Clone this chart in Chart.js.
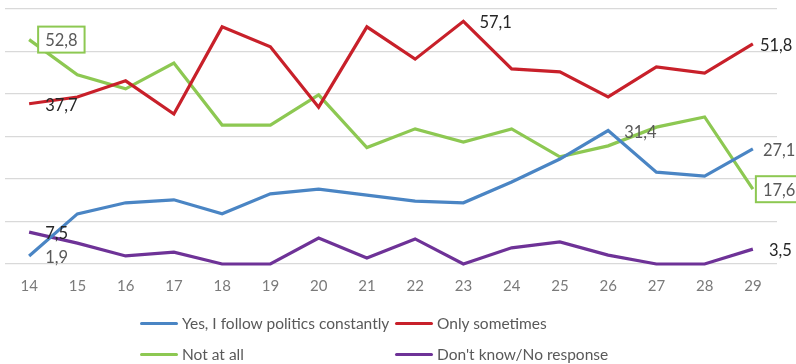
<!DOCTYPE html>
<html><head><meta charset="utf-8">
<script src="https://cdn.jsdelivr.net/npm/chart.js@4"></script>
<style>
html,body{margin:0;padding:0;background:#fff;}
#wrap{position:relative;width:796px;height:364px;}
canvas{position:absolute;left:0;top:0;}
.lg{position:absolute;font-family:Lato,sans-serif;font-size:15.5px;color:#595959;white-space:nowrap;line-height:18px;}
.lg i{position:absolute;left:-42px;top:8px;width:38px;height:3px;border-radius:2px;}
</style></head>
<body>
<div id="wrap"><canvas id="c" width="796" height="364"></canvas>
<div id="legend"></div></div>
<script>
const categories = ['14','15','16','17','18','19','20','21','22','23','24','25','26','27','28','29'];
const seriesNames = ['Yes, I follow politics constantly','Only sometimes','Not at all',"Don't know/No response"];
const yesConstantly = [1.9,11.8,14.4,15.1,11.8,16.5,17.6,16.2,14.8,14.4,19.3,24.7,31.4,21.6,20.7,27.1];
const onlySometimes = [37.7,39.3,43.1,35.3,55.8,51.1,36.9,55.8,48.2,57.1,45.9,45.2,39.3,46.4,44.9,51.8];
const notAtAll = [52.8,44.5,41.2,47.3,32.7,32.7,39.8,27.4,31.8,28.7,31.8,25.2,27.8,32.2,34.6,17.6];
const dontKnow = [7.5,4.9,1.9,2.8,0,0,6.1,1.4,5.9,0,3.8,5.2,2.1,0,0,3.5];
const colors = ['#4a85c4','#c8202a','#8dc852','#6e3297'];
const allData = [yesConstantly, onlySometimes, notAtAll, dontKnow];

// data label specs: dataset, point index, style
const labelSpecs = [
  {ds:1,i:0,dx:16,dy:1,color:'#262626'},
  {ds:2,i:0,dx:16,dy:0,color:'#595959',box:true},
  {ds:1,i:9,dx:16,dy:0,color:'#262626'},
  {ds:1,i:15,dx:7,dy:1,color:'#262626'},
  {ds:0,i:12,dx:16,dy:1,color:'#595959'},
  {ds:0,i:15,dx:10,dy:1,color:'#595959'},
  {ds:2,i:15,dx:10,dy:0,color:'#595959',box:true},
  {ds:3,i:0,dx:16,dy:1,color:'#262626'},
  {ds:0,i:0,dx:16,dy:1,color:'#595959'},
  {ds:3,i:15,dx:16,dy:1,color:'#262626'}
];

const labelPlugin = {
  id:'labels',
  afterDatasetsDraw(chart){
    const ctx = chart.ctx;
    ctx.save();
    ctx.font = '16.5px Lato, sans-serif';
    ctx.textBaseline = 'middle';
    ctx.textAlign = 'left';
    labelSpecs.forEach(s=>{
      const el = chart.getDatasetMeta(s.ds).data[s.i];
      const v = chart.data.datasets[s.ds].data[s.i];
      const txt = v.toFixed(1).replace('.',',');
      const x = el.x + s.dx, y = el.y + s.dy;
      const w = ctx.measureText(txt).width;
      if (s.box){
        ctx.fillStyle='#fff';
        ctx.fillRect(x-7,y-13,w+14,26);
        ctx.strokeStyle = colors[2];
        ctx.lineWidth = 2;
        ctx.strokeRect(x-7,y-13,w+14,26);
      }
      ctx.fillStyle = s.color;
      ctx.fillText(txt,x,y+1);
    });
    ctx.restore();
  }
};

new Chart(document.getElementById('c'),{
  type:'line',
  data:{
    labels:categories,
    datasets: allData.map((d,k)=>({
      label:seriesNames[k], data:d, borderColor:colors[k], backgroundColor:colors[k],
      borderWidth:3.2, pointRadius:0, tension:0, clip:false, borderJoinStyle:'miter'
    }))
  },
  options:{
    responsive:false, animation:false,
    layout:{padding:{left:5,right:19,top:9,bottom:56}},
    plugins:{legend:{display:false},tooltip:{enabled:false}},
    scales:{
      x:{offset:true, grid:{display:false,drawTicks:false,tickLength:0}, border:{display:false},
         ticks:{color:'#7a7a7a',font:{family:'Lato',size:15},padding:13,maxRotation:0}},
      y:{min:0,max:60, grid:{color:'#d9d9d9',lineWidth:1.3,drawTicks:false,tickLength:0}, border:{display:false},
         ticks:{display:false,stepSize:10}}
    }
  },
  plugins:[labelPlugin]
});

// HTML legend
const lg = document.getElementById('legend');
const pos = [[182,314],[437,314],[182,345],[437,345]];
seriesNames.forEach((n,k)=>{
  const d = document.createElement('div');
  d.className='lg';
  d.style.left = pos[k][0]+'px'; d.style.top = pos[k][1]+'px';
  d.innerHTML = '<i style="background:'+colors[k]+'"></i>'+n;
  lg.appendChild(d);
});
</script>
</body></html>
